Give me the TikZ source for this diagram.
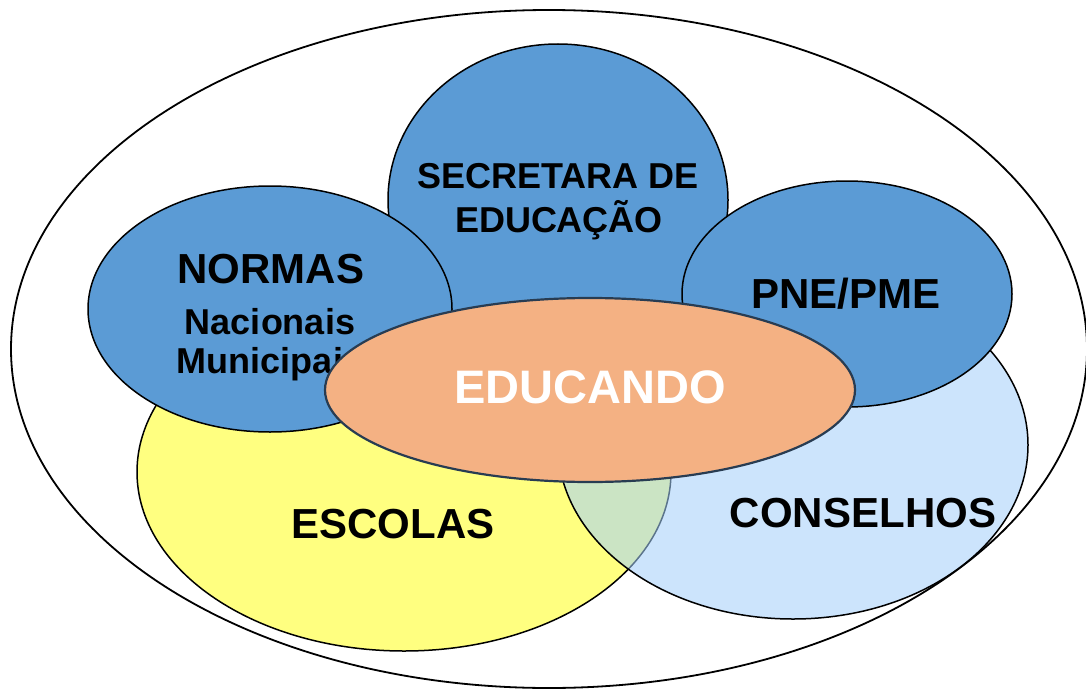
\documentclass[tikz,border=0pt]{standalone}
\usepackage{fontspec}
\setmainfont{Liberation Sans}

\definecolor{azul}{RGB}{91,155,213}
\definecolor{laranja}{RGB}{244,177,131}
\definecolor{amarelo}{RGB}{255,255,128}
\definecolor{celeste}{RGB}{164,207,250}
\definecolor{contorno}{RGB}{40,60,82}

\begin{document}
\begin{tikzpicture}[x=1pt,y=-1pt]
	\useasboundingbox (0,0) rectangle (1086,690);
	\tikzset{lbl/.style={anchor=base,inner sep=0pt,font=\bfseries}}
	\draw[line width=1.8pt] (549,349) ellipse [x radius=538pt, y radius=339pt];
	\draw[line width=1.5pt,fill=amarelo] (404,472) ellipse [x radius=267pt, y radius=179pt];
	\draw[line width=1.5pt,fill=celeste,fill opacity=0.56] (793,445) ellipse [x radius=235pt, y radius=174pt];
	\draw[line width=1.5pt,fill=azul] (558,200) ellipse [x radius=170pt, y radius=156pt];
	\path (558,188) node[lbl] (t0) {\fontsize{36}{36}\selectfont SECRETARA DE};
	\path (559,232) node[lbl] (t1) {\fontsize{36}{36}\selectfont EDUCAÇÃO};
	\draw[line width=1.5pt,fill=azul] (270,309) ellipse [x radius=182pt, y radius=123pt];
	\path (271,283) node[lbl] (t2) {\fontsize{42}{42}\selectfont NORMAS};
	\path (270,334) node[lbl] (t3) {\fontsize{36}{36}\selectfont Nacionais};
	\path (270,373) node[lbl] (t4) {\fontsize{36}{36}\selectfont Municipais};
	\draw[line width=1.5pt,fill=azul] (847,294) ellipse [x radius=165pt, y radius=113pt];
	\path (846,308) node[lbl] (t5) {\fontsize{42}{42}\selectfont PNE/PME};
	\path (393,538) node[lbl] (t6) {\fontsize{42}{42}\selectfont ESCOLAS};
	\path (863,527) node[lbl] (t7) {\fontsize{42}{42}\selectfont CONSELHOS};
	\draw[line width=2.2pt,draw=contorno,fill=laranja] (590,390) ellipse [x radius=265pt, y radius=92pt];
	\path (590,403) node[lbl,text=white] (t8) {\fontsize{47}{47}\selectfont EDUCANDO};
\end{tikzpicture}
\end{document}
